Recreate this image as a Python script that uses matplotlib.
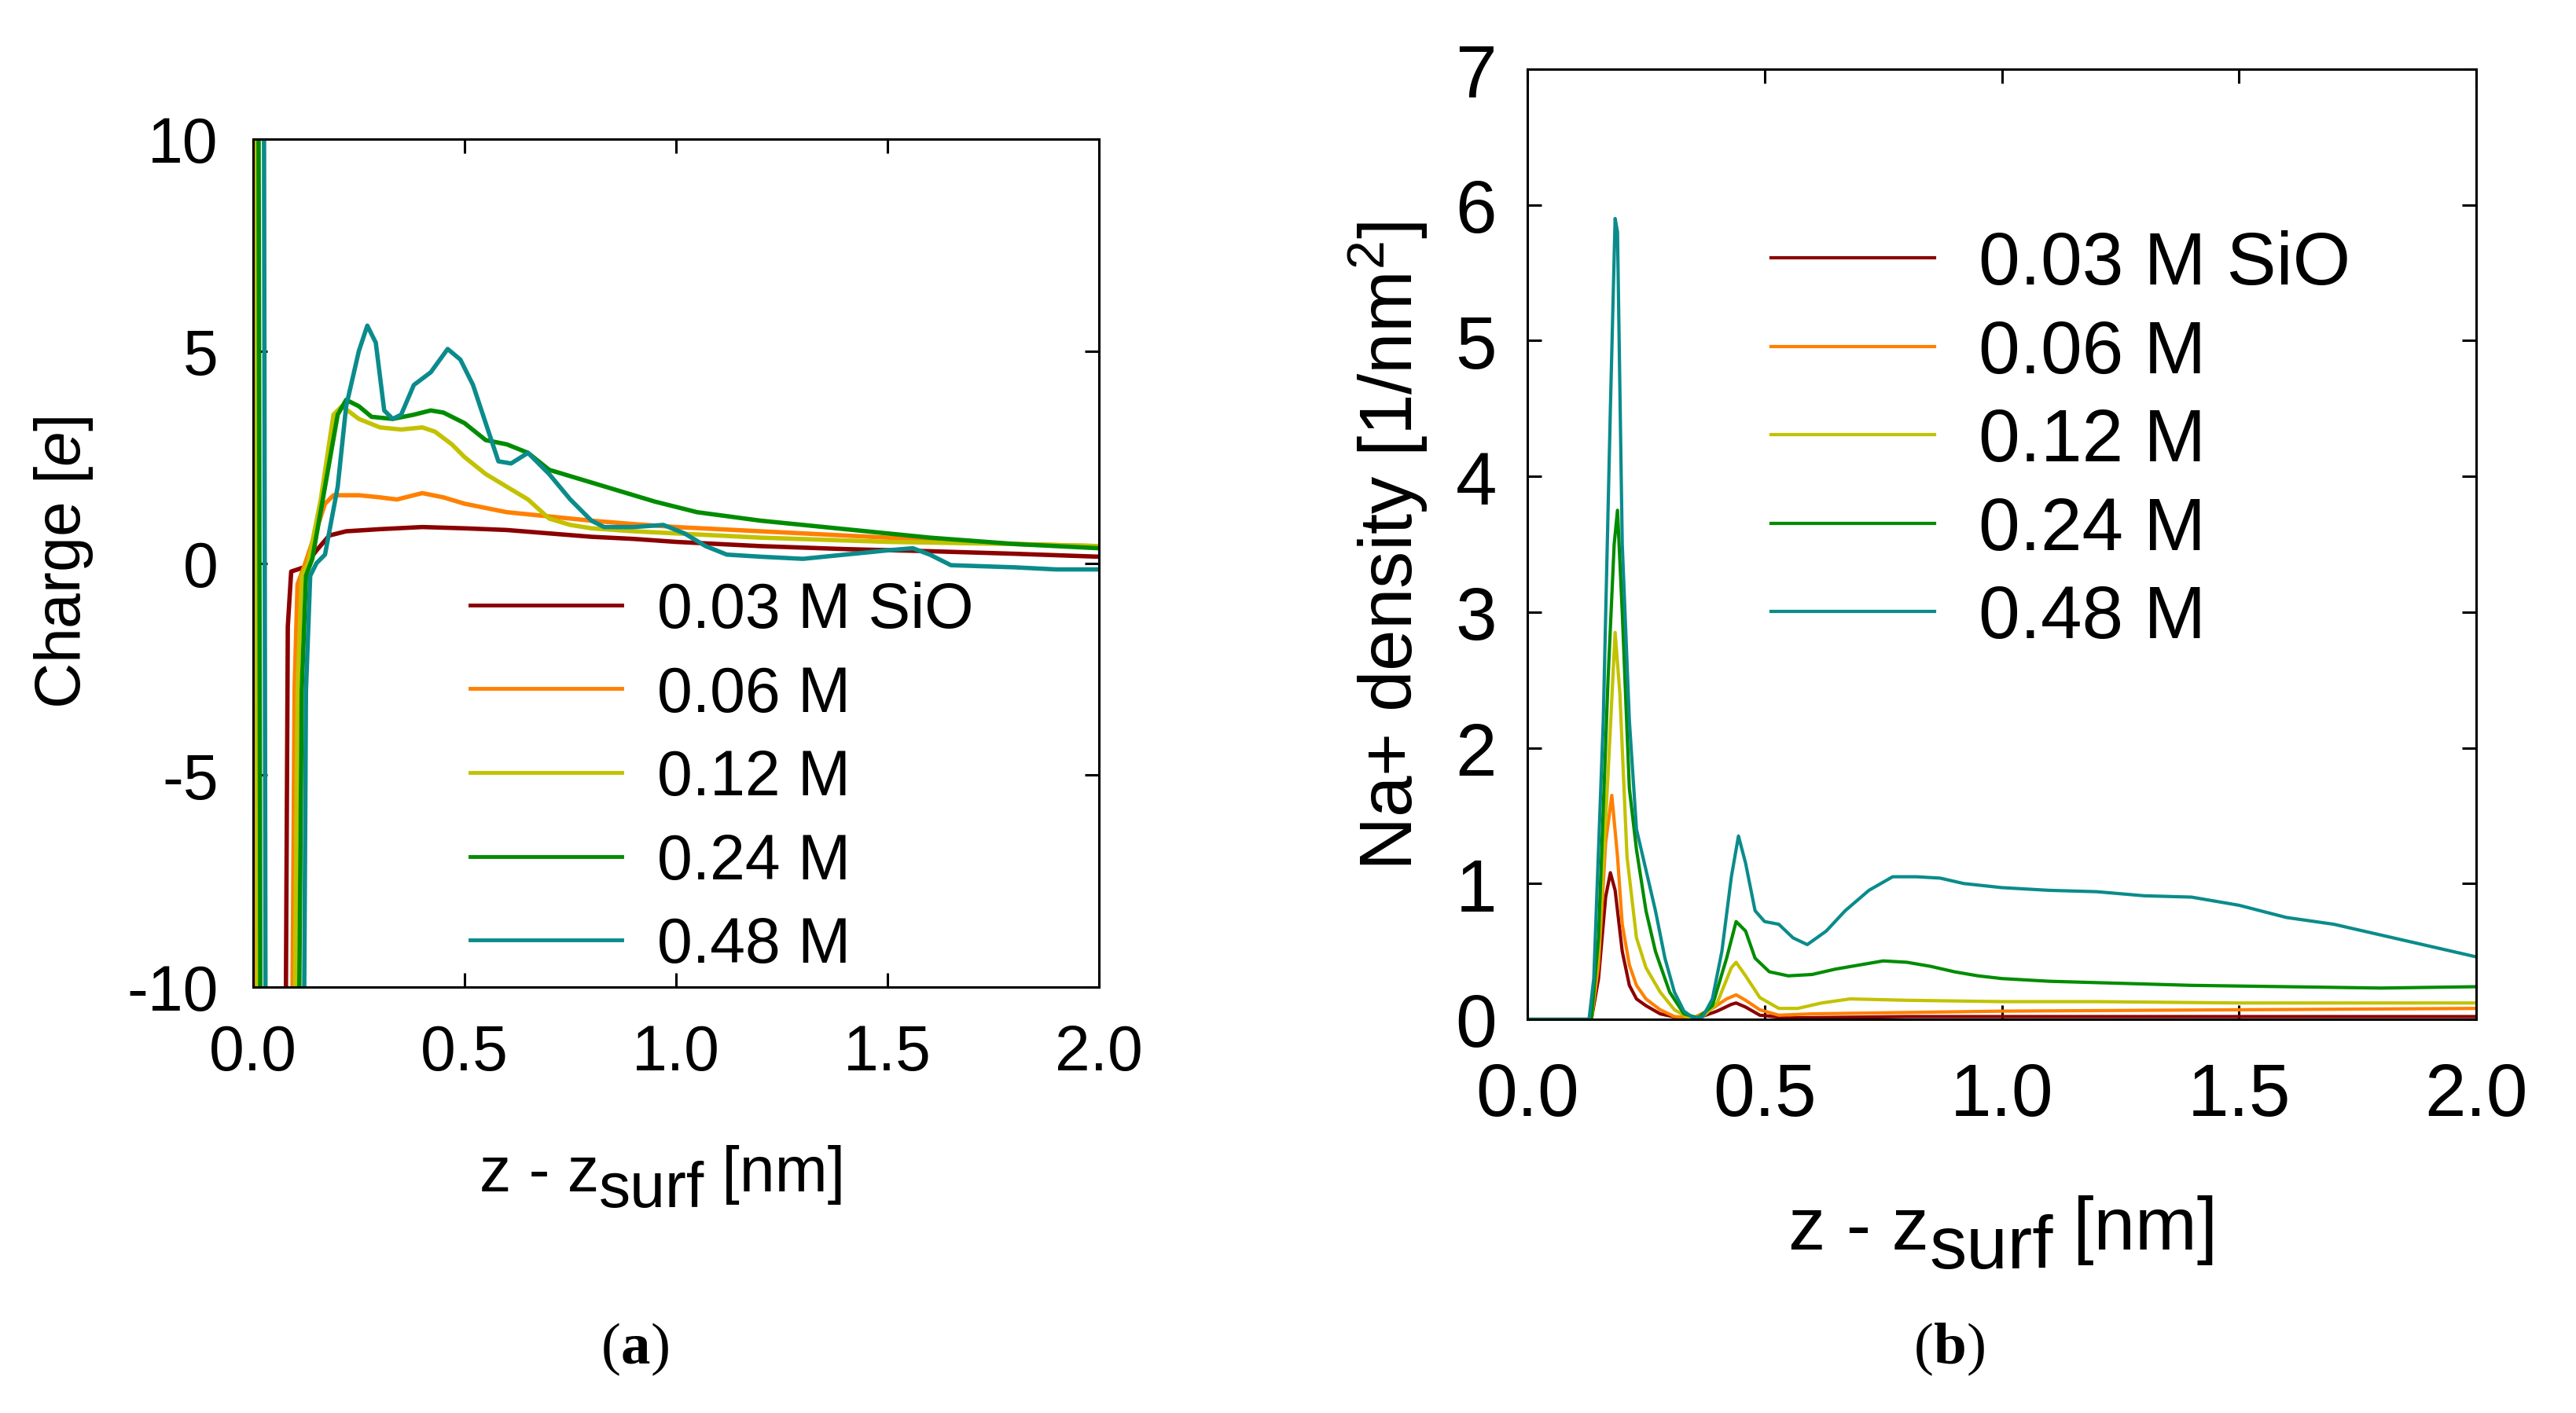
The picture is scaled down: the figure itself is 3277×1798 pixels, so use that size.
import matplotlib
matplotlib.use("Agg")
import matplotlib.pyplot as plt

plt.rcParams["font.family"] = ["Liberation Sans", "DejaVu Sans"]
plt.rcParams["mathtext.fontset"] = "custom"
plt.rcParams["mathtext.rm"] = "Liberation Sans"
plt.rcParams["mathtext.it"] = "Liberation Sans:italic"
plt.rcParams["axes.unicode_minus"] = False

labels = ["0.03 M SiO", "0.06 M", "0.12 M", "0.24 M", "0.48 M"]
colors = ["#8b0000", "#ff8000", "#c2c200", "#008c00", "#0b8b8b"]

# (a) charge profiles
q_x_003 = [0.0, 0.003, 0.006, 0.075, 0.082, 0.09, 0.12, 0.15, 0.18, 0.22, 0.3, 0.4, 0.5, 0.6,
           0.7, 0.8, 0.9, 1.0, 1.2, 1.4, 1.6, 1.8, 2.0]
q_y_003 = [15, 15, -15, -15, -1.5, -0.2, -0.1, 0.3, 0.65, 0.75, 0.8, 0.85, 0.82, 0.78,
           0.7, 0.62, 0.57, 0.5, 0.4, 0.33, 0.28, 0.22, 0.15]
q_x_006 = [0.0, 0.004, 0.008, 0.09, 0.098, 0.105, 0.12, 0.14, 0.17, 0.19, 0.25, 0.3, 0.34, 0.4,
           0.45, 0.5, 0.6, 0.7, 0.8, 0.9, 1.0, 1.2, 1.5, 1.8, 2.0]
q_y_006 = [15, 15, -15, -15, -3, -0.5, -0.1, 0.5, 1.4, 1.6, 1.6, 1.55, 1.5, 1.65,
           1.55, 1.4, 1.2, 1.1, 1.0, 0.92, 0.85, 0.75, 0.6, 0.45, 0.4]
q_x_012 = [0.0, 0.006, 0.011, 0.095, 0.105, 0.115, 0.13, 0.16, 0.19, 0.21, 0.25, 0.3, 0.35,
           0.4, 0.43, 0.47, 0.5, 0.55, 0.6, 0.65, 0.7, 0.75, 0.8, 0.9, 1.0, 1.2, 1.5, 1.8, 2.0]
q_y_012 = [15, 15, -15, -15, -3, -0.3, 0.0, 1.5, 3.5, 3.7, 3.4, 3.2, 3.15,
           3.2, 3.1, 2.8, 2.5, 2.1, 1.8, 1.5, 1.05, 0.9, 0.82, 0.75, 0.7, 0.6, 0.5, 0.45, 0.4]
q_x_024 = [0.0, 0.012, 0.018, 0.105, 0.115, 0.125, 0.14, 0.17, 0.2, 0.22, 0.25, 0.28, 0.33,
           0.38, 0.42, 0.45, 0.5, 0.55, 0.6, 0.65, 0.7, 0.8, 0.85, 0.95, 1.05, 1.2, 1.4, 1.6,
           1.8, 2.0]
q_y_024 = [15, 15, -15, -15, -3, -0.3, 0.1, 1.8, 3.5, 3.85, 3.7, 3.45, 3.4,
           3.5, 3.6, 3.55, 3.3, 2.9, 2.8, 2.6, 2.2, 1.9, 1.75, 1.45, 1.2, 1.0, 0.8, 0.6,
           0.45, 0.35]
q_x_048 = [0.0, 0.025, 0.03, 0.118, 0.125, 0.135, 0.15, 0.17, 0.2, 0.22, 0.25, 0.27, 0.29,
           0.31, 0.33, 0.35, 0.38, 0.42, 0.46, 0.49, 0.52, 0.55, 0.58, 0.61, 0.65, 0.7, 0.75,
           0.8, 0.83, 0.9, 0.97, 1.02, 1.07, 1.12, 1.2, 1.3, 1.4, 1.5, 1.56, 1.6, 1.65, 1.8,
           1.9, 2.0]
q_y_048 = [15, 15, -15, -15, -3, -0.3, 0.0, 0.2, 1.8, 3.7, 5.0, 5.6, 5.2,
           3.6, 3.4, 3.5, 4.2, 4.5, 5.05, 4.8, 4.2, 3.3, 2.4, 2.35, 2.6, 2.1, 1.5,
           1.0, 0.85, 0.85, 0.9, 0.7, 0.4, 0.2, 0.15, 0.1, 0.2, 0.3, 0.35, 0.2, -0.05, -0.1,
           -0.15, -0.15]

# (b) Na+ density profiles
d_x_003 = [0.0, 0.135, 0.15, 0.165, 0.175, 0.185, 0.2, 0.215, 0.23, 0.25, 0.28, 0.32, 0.36,
           0.4, 0.43, 0.44, 0.46, 0.49, 0.55, 0.8, 1.2, 1.6, 2.0]
d_y_003 = [0, 0, 0.3, 0.9, 1.08, 0.95, 0.5, 0.25, 0.15, 0.1, 0.04, 0.01, 0.01,
           0.06, 0.11, 0.12, 0.09, 0.03, 0.01, 0.02, 0.02, 0.02, 0.02]
d_x_006 = [0.0, 0.135, 0.15, 0.165, 0.178, 0.19, 0.2, 0.215, 0.23, 0.25, 0.28, 0.31, 0.35,
           0.39, 0.42, 0.44, 0.46, 0.49, 0.53, 0.6, 0.8, 1.0, 1.5, 2.0]
d_y_006 = [0, 0, 0.4, 1.3, 1.65, 1.2, 0.7, 0.4, 0.25, 0.15, 0.07, 0.02, 0.01,
           0.08, 0.15, 0.18, 0.14, 0.07, 0.03, 0.04, 0.05, 0.06, 0.07, 0.08]
d_x_012 = [0.0, 0.135, 0.15, 0.17, 0.185, 0.195, 0.21, 0.23, 0.25, 0.28, 0.31, 0.34, 0.37,
           0.4, 0.43, 0.44, 0.46, 0.49, 0.53, 0.57, 0.62, 0.68, 0.8, 1.0, 1.2, 1.5, 1.8, 2.0]
d_y_012 = [0, 0, 0.5, 1.8, 2.85, 2.4, 1.2, 0.6, 0.38, 0.2, 0.07, 0.01, 0.02,
           0.12, 0.38, 0.42, 0.32, 0.16, 0.08, 0.08, 0.12, 0.15, 0.14, 0.13, 0.13, 0.12, 0.12,
           0.12]
d_x_024 = [0.0, 0.135, 0.15, 0.17, 0.183, 0.19, 0.2, 0.215, 0.23, 0.25, 0.27, 0.3, 0.33,
           0.36, 0.39, 0.42, 0.44, 0.46, 0.48, 0.51, 0.55, 0.6, 0.65, 0.7, 0.75, 0.8, 0.85,
           0.9, 0.95, 1.0, 1.1, 1.2, 1.4, 1.6, 1.8, 2.0]
d_y_024 = [0, 0, 0.6, 2.5, 3.5, 3.75, 3.0, 1.7, 1.25, 0.8, 0.5, 0.2, 0.04,
           0.01, 0.1, 0.45, 0.72, 0.65, 0.45, 0.35, 0.32, 0.33, 0.37, 0.4, 0.43, 0.42, 0.39,
           0.35, 0.32, 0.3, 0.28, 0.27, 0.25, 0.24, 0.23, 0.24]
d_x_048 = [0.0, 0.13, 0.14, 0.16, 0.175, 0.185, 0.19, 0.2, 0.215, 0.23, 0.25, 0.27, 0.29,
           0.31, 0.33, 0.35, 0.37, 0.39, 0.41, 0.43, 0.445, 0.46, 0.48, 0.5, 0.53, 0.56, 0.59,
           0.63, 0.67, 0.72, 0.77, 0.82, 0.87, 0.92, 1.0, 1.1, 1.2, 1.3, 1.4, 1.5, 1.6, 1.7,
           1.8, 1.9, 2.0]
d_y_048 = [0, 0, 0.3, 2.2, 4.5, 5.9, 5.8, 3.5, 2.2, 1.4, 1.1, 0.8, 0.45,
           0.2, 0.06, 0.01, 0.02, 0.15, 0.5, 1.05, 1.35, 1.15, 0.8, 0.72, 0.7, 0.6, 0.55,
           0.65, 0.8, 0.95, 1.05, 1.05, 1.04, 1.0, 0.97, 0.95, 0.94, 0.91, 0.9, 0.84, 0.75, 0.7,
           0.62, 0.54, 0.46]

charge = [(q_x_003, q_y_003), (q_x_006, q_y_006), (q_x_012, q_y_012),
          (q_x_024, q_y_024), (q_x_048, q_y_048)]
density = [(d_x_003, d_y_003), (d_x_006, d_y_006), (d_x_012, d_y_012),
           (d_x_024, d_y_024), (d_x_048, d_y_048)]

W, H = 3277, 1799
fig = plt.figure(figsize=(W / 100, H / 100), dpi=100)


def px_axes(left, top, right, bottom):
    return fig.add_axes([left / W, 1 - bottom / H, (right - left) / W, (bottom - top) / H])


def style_axes(ax, fs, padx, pady):
    for s in ax.spines.values():
        s.set_linewidth(2.2)
    ax.tick_params(direction="in", top=True, right=True, length=13, width=2.2,
                   labelsize=fs)
    ax.tick_params(axis="x", pad=padx)
    ax.tick_params(axis="y", pad=pady)
    ax.set_xlim(0, 2)
    ax.set_xticks([0, 0.5, 1.0, 1.5, 2.0])
    ax.set_xticklabels(["0.0", "0.5", "1.0", "1.5", "2.0"])


def zlabel(x, y, fs):
    t1 = fig.text(x / W, 1 - y / H, "z - z", fontsize=fs, va="baseline", ha="left")
    t2 = plt.annotate("surf", xy=(1, 0), xycoords=t1, xytext=(0, -0.25 * fs),
                      textcoords="offset points", fontsize=fs, va="bottom", ha="left")
    plt.annotate(" [nm]", xy=(1, 0), xycoords=t2, xytext=(0, 0.25 * fs),
                 textcoords="offset points", fontsize=fs, va="bottom", ha="left")


def caption(x, y, letter):
    t1 = fig.text(x / W, 1 - y / H, "(", fontsize=54, family="Liberation Serif",
                  va="center", ha="right")
    t2 = plt.annotate(letter, xy=(1, 0), xycoords=t1, fontsize=54, fontweight="bold",
                      family="Liberation Serif", va="bottom", ha="left")
    plt.annotate(")", xy=(1, 0), xycoords=t2, fontsize=54, family="Liberation Serif",
                 va="bottom", ha="left")


# panel (a)
ax1 = px_axes(322, 178, 1398, 1257)
for (x, y), c, lab in zip(charge, colors, labels):
    ax1.plot(x, y, color=c, lw=4, label=lab)
ax1.set_ylim(-10, 10)
ax1.set_yticks([-10, -5, 0, 5, 10])
style_axes(ax1, 58, 33, 32)
ax1.legend(loc="upper left", bbox_to_anchor=(598 / W, 1 - 740 / H),
           bbox_transform=fig.transFigure, frameon=False, fontsize=58,
           handlelength=2.4, handletextpad=0.55, labelspacing=0.38,
           borderpad=0, borderaxespad=0)
for line in ax1.get_legend().get_lines():
    line.set_linewidth(3.5)
fig.text(81 / W, 1 - 716 / H, "Charge [$e$]", fontsize=58, rotation=90,
         ha="center", va="center")
zlabel(610, 1516, 58)

# panel (b)
ax2 = px_axes(1943, 89, 3150, 1298)
for (x, y), c, lab in zip(density, colors, labels):
    ax2.plot(x, y, color=c, lw=3, label=lab)
ax2.set_ylim(0, 7)
ax2.set_yticks(range(0, 8))
style_axes(ax2, 68, 38, 28)
ax2.legend(loc="upper left", bbox_to_anchor=(2253 / W, 1 - 293 / H),
           bbox_transform=fig.transFigure, frameon=False, fontsize=68,
           handlelength=2.2, handletextpad=0.6, labelspacing=0.25,
           borderpad=0, borderaxespad=0)
for line in ax2.get_legend().get_lines():
    line.set_linewidth(3)
fig.text(1766 / W, 1 - 695 / H, "Na+ density [1/nm$^2$]", fontsize=68, rotation=90,
         ha="center", va="center")
zlabel(2275, 1590, 68)

caption(790, 1717, "a")
caption(2460, 1717, "b")

fig.savefig("out.png", dpi=100)
plt.close(fig)
